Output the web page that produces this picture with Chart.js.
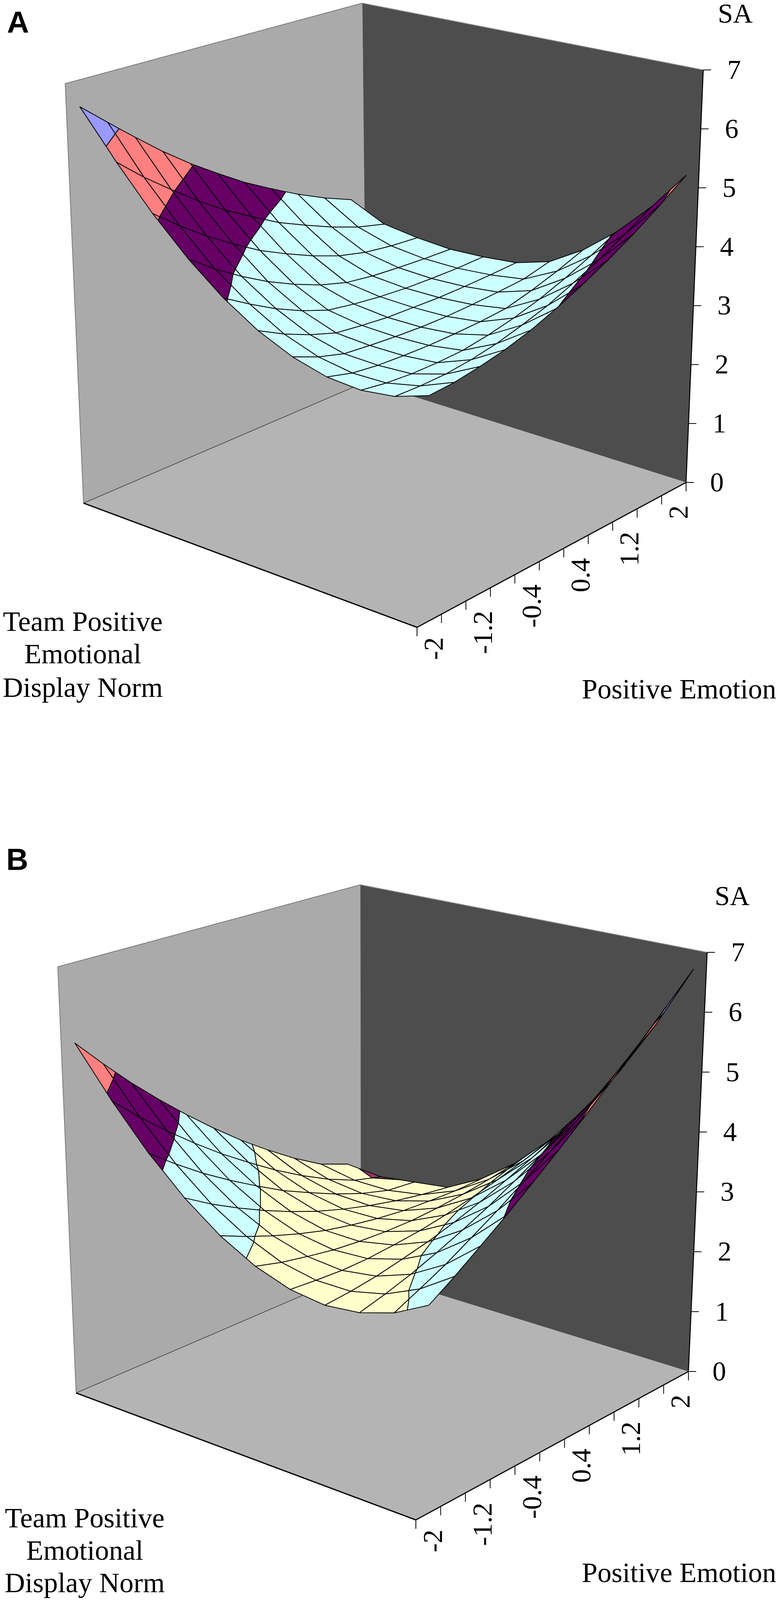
<!DOCTYPE html>
<html lang="en">
<head>
  <meta charset="UTF-8">
  <title>SA response surfaces</title>
  <script src="https://cdn.jsdelivr.net/npm/chart.js"></script>
  <style>
    html, body { margin: 0; padding: 0; background: #fff; }
    #wrap { width: 1995px; height: 4100px; position: relative; }
    .warm { position: absolute; left: -9999px; top: 0; font-size: 20px; }
  </style>
</head>
<body>
<div id="wrap"><canvas id="chart" width="1995" height="4100"></canvas></div>
<span class="warm" style="font-family: 'Liberation Serif'">SA 0.4</span>
<span class="warm" style="font-family: 'Liberation Sans'; font-weight: bold">AB</span>

<script>
  // categories (Positive Emotion) and series (Team Positive Emotional Display Norm)
  const positiveEmotion = [-2, -1.6, -1.2, -0.8, -0.4, 0, 0.4, 0.8, 1.2, 1.6, 2];
  const teamNorm = [-2, -1.6, -1.2, -0.8, -0.4, 0, 0.4, 0.8, 1.2, 1.6, 2];
  const peTickLabels = ['-2', '-1.2', '-0.4', '0.4', '1.2', '2'];
  const saTicks = [0, 1, 2, 3, 4, 5, 6, 7];

  // SA, one row per team norm value (front row first), one column per positive emotion value
  const saPanelA = [
    [3.49, 3.52, 3.59, 3.68, 3.81, 3.98, 4.18, 4.41, 4.67, 4.97, 5.30],
    [3.31, 3.30, 3.31, 3.36, 3.44, 3.56, 3.70, 3.89, 4.10, 4.35, 4.63],
    [3.24, 3.18, 3.15, 3.15, 3.17, 3.24, 3.34, 3.47, 3.64, 3.84, 4.07],
    [3.28, 3.17, 3.12, 3.10, 3.09, 3.10, 3.12, 3.16, 3.28, 3.43, 3.61],
    [3.43, 3.26, 3.14, 3.10, 3.07, 3.05, 3.05, 3.07, 3.10, 3.14, 3.26],
    [3.68, 3.46, 3.28, 3.14, 3.09, 3.05, 3.04, 3.03, 3.04, 3.06, 3.09],
    [4.04, 3.78, 3.54, 3.34, 3.18, 3.11, 3.06, 3.03, 3.02, 3.02, 3.04],
    [4.51, 4.19, 3.91, 3.66, 3.45, 3.27, 3.14, 3.08, 3.05, 3.03, 3.02],
    [5.09, 4.74, 4.42, 4.13, 3.86, 3.64, 3.44, 3.27, 3.16, 3.10, 3.07],
    [5.78, 5.39, 5.04, 4.70, 4.39, 4.12, 3.86, 3.65, 3.45, 3.28, 3.16],
    [6.55, 6.16, 5.77, 5.39, 5.04, 4.72, 4.41, 4.14, 3.88, 3.65, 3.45]
  ];
  const saPanelB = [
    [3.18, 3.44, 3.73, 4.03, 4.36, 4.71, 5.08, 5.48, 5.90, 6.34, 6.80],
    [2.89, 3.08, 3.28, 3.52, 3.77, 4.05, 4.35, 4.67, 5.01, 5.38, 5.77],
    [2.72, 2.83, 2.96, 3.12, 3.30, 3.50, 3.73, 3.98, 4.25, 4.54, 4.85],
    [2.66, 2.70, 2.76, 2.85, 2.95, 3.08, 3.23, 3.41, 3.60, 3.82, 4.06],
    [2.73, 2.70, 2.68, 2.69, 2.73, 2.78, 2.86, 2.96, 3.08, 3.22, 3.39],
    [2.92, 2.81, 2.73, 2.66, 2.62, 2.60, 2.60, 2.63, 2.68, 2.75, 2.84],
    [3.23, 3.05, 2.89, 2.75, 2.63, 2.54, 2.47, 2.42, 2.40, 2.39, 2.41],
    [3.66, 3.40, 3.17, 2.96, 2.77, 2.60, 2.46, 2.34, 2.24, 2.16, 2.10],
    [4.21, 3.88, 3.57, 3.29, 3.03, 2.78, 2.57, 2.37, 2.20, 2.07, 2.03],
    [4.89, 4.48, 4.10, 3.74, 3.40, 3.09, 2.79, 2.52, 2.28, 2.08, 1.96],
    [5.68, 5.20, 4.74, 4.31, 3.90, 3.51, 3.14, 2.80, 2.48, 2.20, 2.02]
  ];

  // one colour per SA band of one unit (0-1, 1-2, ... 6-7)
  const bandColors = ['#ccccff', '#993366', '#ffffcc', '#ccffff', '#660066', '#ff8080', '#9999ff'];

  // box corners on the page: floor (SA = 0) and top (SA = 7); F front, R right, L left, B back
  const cameras = {
    A: { floor: { F: [1068, 1606], R: [1757, 1235], L: [214, 1288], B: [938, 977] },
         top:   { F: [1065, 445],  R: [1801, 179],  L: [167, 214],  B: [928, 8] } },
    B: { floor: { F: [1065, 3891], R: [1763, 3511], L: [195, 3566], B: [924, 3252] },
         top:   { F: [1067, 2714], R: [1811, 2438], L: [148, 2475], B: [923, 2265] } }
  };

  const panels = [
    { values: saPanelA, cam: cameras.A, letter: 'A', letterAt: [18, 84], saAt: [1883, 58],
      peTitleAt: [1988, 1788], tnTitleX: 212, tnTitleY: [1615, 1698, 1784] },
    { values: saPanelB, cam: cameras.B, letter: 'B', letterAt: [16, 2227], saAt: [1875, 2317],
      peTitleAt: [1988, 4050], tnTitleX: 217, tnTitleY: [3910, 3993, 4076] }
  ];

  const zTop = saTicks[saTicks.length - 1];
  const nCat = positiveEmotion.length;

  function corner(P, a, b, k) {
    return P.F[k] * (1 - a) * (1 - b) + P.R[k] * a * (1 - b) + P.L[k] * (1 - a) * b + P.B[k] * a * b;
  }

  // a: along Positive Emotion (front -> right), b: along team norm (front -> left), z: SA
  function project(cam, a, b, z) {
    const c = z / zTop;
    const fx = corner(cam.floor, a, b, 0), fy = corner(cam.floor, a, b, 1);
    const tx = corner(cam.top, a, b, 0), ty = corner(cam.top, a, b, 1);
    return { x: fx + (tx - fx) * c, y: fy + (ty - fy) * c };
  }

  const catPos = i => (i + 0.5) / nCat;
  const serPos = j => j / (teamNorm.length - 1);

  function clipPoly(poly, level, above) {
    const out = [];
    for (let i = 0; i < poly.length; i++) {
      const p = poly[i], q = poly[(i + 1) % poly.length];
      const pin = above ? p.z >= level : p.z <= level;
      const qin = above ? q.z >= level : q.z <= level;
      if (pin) out.push(p);
      if (pin !== qin) {
        const t = (level - p.z) / (q.z - p.z);
        out.push({ a: p.a + (q.a - p.a) * t, b: p.b + (q.b - p.b) * t, z: level });
      }
    }
    return out;
  }

  function shape(pts, fillColor, stroke, width) {
    return {
      data: pts,
      showLine: true,
      fill: fillColor ? 'shape' : false,
      backgroundColor: fillColor || 'transparent',
      borderColor: stroke || 'transparent',
      borderWidth: width || 1,
      pointRadius: 0,
      pointHoverRadius: 0,
      tension: 0,
      borderJoinStyle: 'round',
      borderCapStyle: 'butt'
    };
  }

  function boxLayers(cam) {
    const P = (a, b, z) => project(cam, a, b, z);
    const F0 = P(0, 0, 0), R0 = P(1, 0, 0), L0 = P(0, 1, 0), B0 = P(1, 1, 0);
    const R7 = P(1, 0, zTop), L7 = P(0, 1, zTop), B7 = P(1, 1, zTop);
    return [
      shape([L0, L7, B7, B0, L0], '#aaaaaa'),
      shape([B0, B7, R7, R0, B0], '#4d4d4d'),
      shape([F0, R0, B0, L0, F0], '#b4b4b4'),
      shape([L0, L7, B7], null, '#7a7a7a', 2),
      shape([B7, R7], null, '#8f8f8f', 2),
      shape([L0, B0], null, '#3c3c3c', 1.5)
    ];
  }

  function axisLayers(cam) {
    const P = (a, b, z) => project(cam, a, b, z);
    const out = [
      shape([P(0, 1, 0), P(0, 0, 0), P(1, 0, 0)], null, '#000', 3),
      shape([P(1, 0, 0), P(1, 0, zTop)], null, '#000', 2.5)
    ];
    for (let k = 0; k <= nCat; k++) {
      const p = P(k / nCat, 0, 0);
      out.push(shape([p, { x: p.x, y: p.y + 22 }], null, '#000', 2));
    }
    saTicks.forEach(z => {
      const p = P(1, 0, z);
      out.push(shape([p, { x: p.x + 20, y: p.y }], null, '#000', 2));
    });
    return out;
  }

  function surfaceLayers(panel) {
    const cam = panel.cam, rows = panel.values;
    const v = (i, j) => ({ a: catPos(i), b: serPos(j), z: rows[j][i] });
    const quads = [];
    for (let j = 0; j < teamNorm.length - 1; j++) {
      for (let i = 0; i < nCat - 1; i++) {
        const c = project(cam, (catPos(i) + catPos(i + 1)) / 2, (serPos(j) + serPos(j + 1)) / 2, 0);
        quads.push({ poly: [v(i, j), v(i + 1, j), v(i + 1, j + 1), v(i, j + 1)], depth: c.y });
      }
    }
    // far quads first
    quads.sort((p, q) => p.depth - q.depth);
    const out = [];
    quads.forEach(q => {
      const zs = q.poly.map(p => p.z);
      const lo = Math.max(0, Math.floor(Math.min(...zs)));
      const hi = Math.min(bandColors.length - 1, Math.floor(Math.max(...zs)));
      for (let k = lo; k <= hi; k++) {
        const piece = clipPoly(clipPoly(q.poly, k, true), k + 1, false);
        if (piece.length < 3) continue;
        const pts = piece.map(p => project(cam, p.a, p.b, p.z));
        pts.push(pts[0]);
        out.push(shape(pts, bandColors[k], '#000', 2));
      }
    });
    return out;
  }

  // bottom layer first
  const layers = [];
  panels.forEach(panel => {
    layers.push(...boxLayers(panel.cam));
    layers.push(...surfaceLayers(panel));
    layers.push(...axisLayers(panel.cam));
  });

  const serif = '"Liberation Serif", "Times New Roman", Times, serif';
  const sans = '"Liberation Sans", Arial, sans-serif';

  const textPlugin = {
    id: 'surfaceText',
    afterDatasetsDraw(chart) {
      const ctx = chart.ctx;
      const X = v => chart.scales.x.getPixelForValue(v);
      const Y = v => chart.scales.y.getPixelForValue(v);
      ctx.save();
      ctx.fillStyle = '#000';
      panels.forEach(panel => {
        const cam = panel.cam;

        ctx.font = 'bold 78px ' + sans;
        ctx.textAlign = 'left';
        ctx.textBaseline = 'alphabetic';
        ctx.fillText(panel.letter, X(panel.letterAt[0]), Y(panel.letterAt[1]));

        ctx.font = '70px ' + serif;
        ctx.textAlign = 'center';
        ctx.fillText('SA', X(panel.saAt[0]), Y(panel.saAt[1]));

        saTicks.forEach(z => {
          const p = project(cam, 1, 0, z);
          ctx.fillText(String(z), X(p.x + 79), Y(p.y + 23));
        });

        peTickLabels.forEach(label => {
          const i = positiveEmotion.indexOf(Number(label));
          const p = project(cam, catPos(i), 0, 0);
          ctx.save();
          ctx.translate(X(p.x + 12 + 23), Y(p.y + 42));
          ctx.rotate(-Math.PI / 2);
          ctx.textAlign = 'right';
          ctx.textBaseline = 'alphabetic';
          ctx.fillText(label, 0, 0);
          ctx.restore();
        });

        ctx.font = '72px ' + serif;
        ctx.textAlign = 'right';
        ctx.fillText('Positive Emotion', X(panel.peTitleAt[0]), Y(panel.peTitleAt[1]));

        ctx.textAlign = 'center';
        ['Team Positive', 'Emotional', 'Display Norm'].forEach((line, k) => {
          ctx.fillText(line, X(panel.tnTitleX), Y(panel.tnTitleY[k]));
        });
      });
      ctx.restore();
    }
  };

  function draw() {
    new Chart(document.getElementById('chart'), {
      type: 'scatter',
      data: { datasets: layers.slice().reverse() },
      options: {
        responsive: false,
        maintainAspectRatio: false,
        devicePixelRatio: 1,
        animation: false,
        events: [],
        layout: { padding: 0 },
        scales: {
          x: { type: 'linear', min: 0, max: 1995, display: false },
          y: { type: 'linear', min: 0, max: 4100, reverse: true, display: false }
        },
        plugins: { legend: { display: false }, tooltip: { enabled: false } }
      },
      plugins: [textPlugin]
    });
  }

  Promise.all([
    document.fonts.load('70px "Liberation Serif"'),
    document.fonts.load('bold 78px "Liberation Sans"')
  ]).then(draw, draw);
</script>
</body>
</html>
